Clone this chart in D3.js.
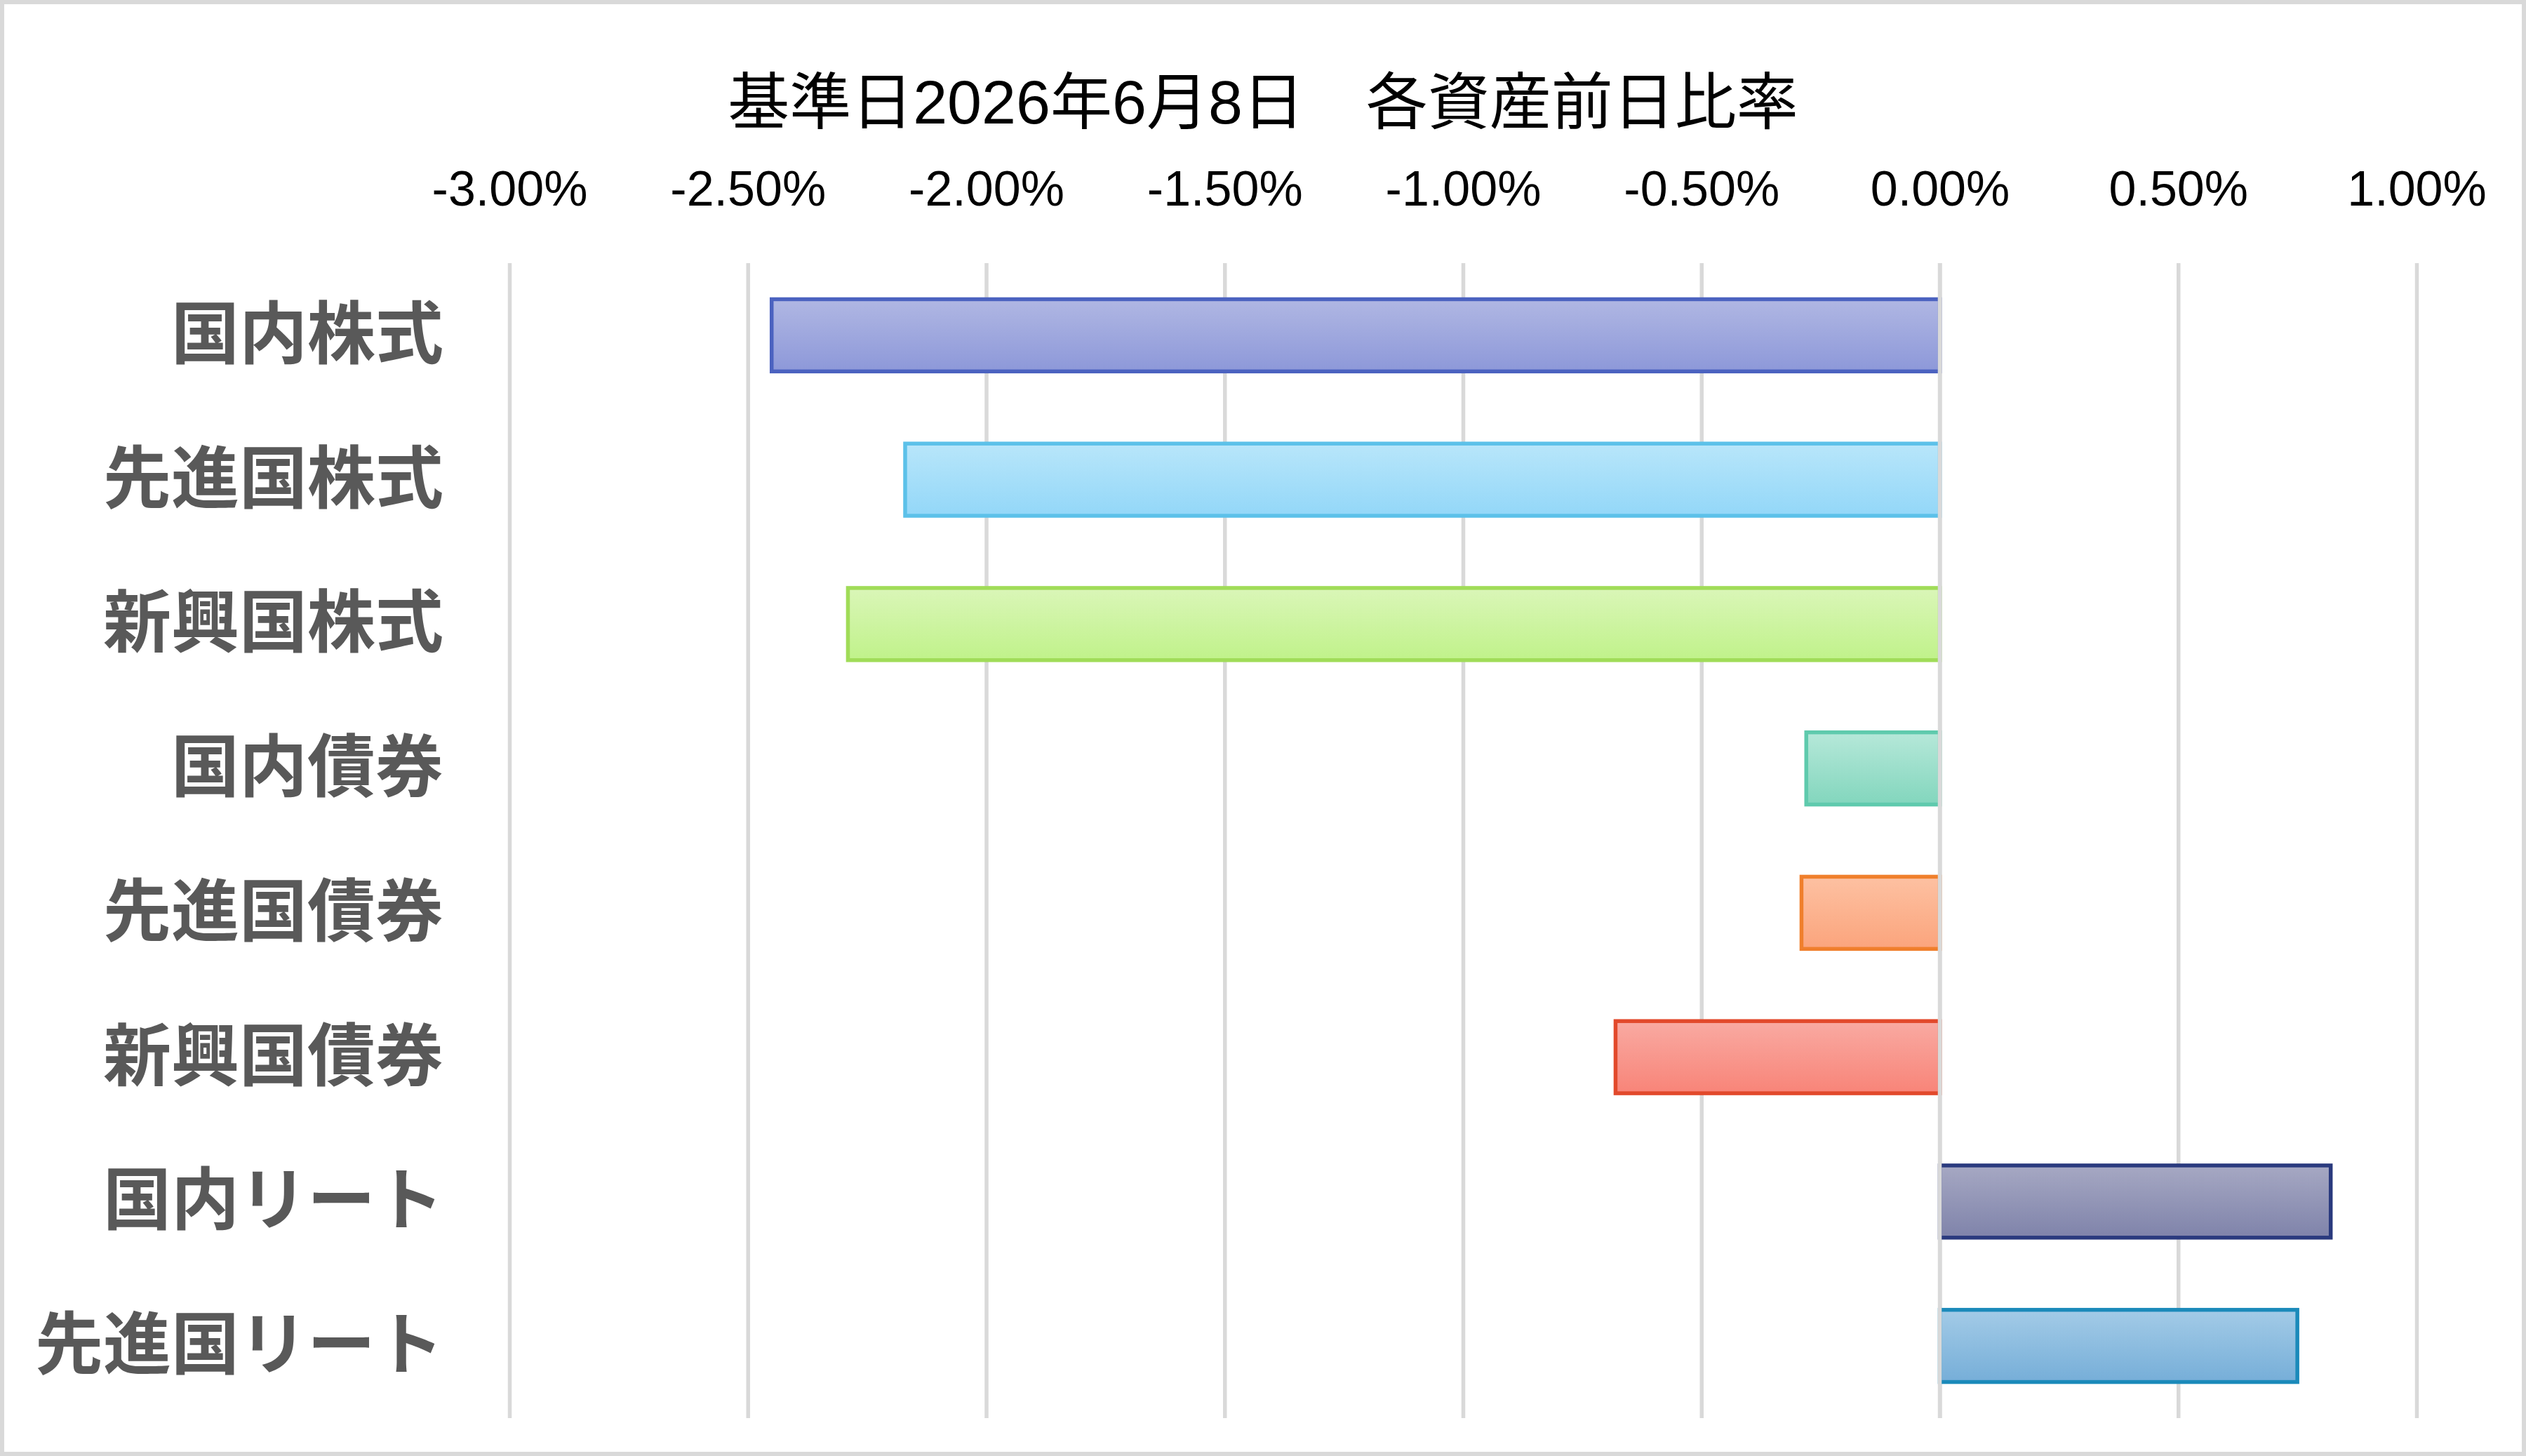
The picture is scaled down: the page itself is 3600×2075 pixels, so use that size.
<!DOCTYPE html>
<html>
<head>
<meta charset="utf-8">
<script src="https://cdn.jsdelivr.net/npm/d3@7"></script>
<style>
  html, body { margin: 0; padding: 0; background: #fff; }
  svg { display: block; }
</style>
</head>
<body>
<div id="chart"></div>
<script>
// data
var titleText = "基準日2026年6月8日　各資産前日比率";
var categories = ["国内株式", "先進国株式", "新興国株式", "国内債券", "先進国債券", "新興国債券", "国内リート", "先進国リート"];
var values = [-2.45, -2.17, -2.29, -0.28, -0.29, -0.68, 0.82, 0.75];
var tickValues = [-3, -2.5, -2, -1.5, -1, -0.5, 0, 0.5, 1];

// bar looks: [stroke, gradient top, gradient bottom]
var barColors = [
    ["#4b62c0", "#b0b7e3", "#8d98d9"],
    ["#5cc1e9", "#b8e6fa", "#93d7f8"],
    ["#a0dc58", "#daf6b8", "#c0f28a"],
    ["#5fcaad", "#b6e8d9", "#82d6bd"],
    ["#f07f2c", "#fdc1a2", "#fba47c"],
    ["#e2492b", "#f9aaa2", "#f88478"],
    ["#2a3a7e", "#a6a8c3", "#7f83aa"],
    ["#1b8aba", "#a3cbe7", "#76aed8"]
];

function start(){
    var W = 3600, H = 2075;
    var margin = {top: 375, right: 156, bottom: 54, left: 726};

    var svg = d3.select("#chart").append("svg")
        .attr("width", W)
        .attr("height", H);

    svg.append("rect")
        .attr("x", 0).attr("y", 0)
        .attr("width", W).attr("height", H)
        .attr("fill", "#fff");

    var xScale = d3.scaleLinear()
        .domain([-3, 1])
        .range([margin.left, W - margin.right]);

    var yScale = d3.scaleBand()
        .domain(categories)
        .range([margin.top, H - margin.bottom])
        .paddingInner(0.5)
        .paddingOuter(0.25);

    var defs = svg.append("defs");
    barColors.forEach(function(c, i){
        var g = defs.append("linearGradient")
            .attr("id", "grad" + i)
            .attr("x1", 0).attr("y1", 0).attr("x2", 0).attr("y2", 1);
        g.append("stop").attr("offset", "0%").attr("stop-color", c[1]);
        g.append("stop").attr("offset", "100%").attr("stop-color", c[2]);
    });

    // vertical grid lines
    var grid = svg.append("g")
        .attr("transform", "translate(0," + margin.top + ")")
        .call(d3.axisBottom(xScale)
            .tickValues(tickValues)
            .tickSize(H - margin.bottom - margin.top)
            .tickFormat(""));
    grid.select(".domain").remove();
    grid.selectAll("line")
        .attr("stroke", "#d9d9d9")
        .attr("stroke-width", 5.5);

    // bars
    svg.append("g").selectAll("rect")
        .data(values)
        .enter()
        .append("rect")
        .attr("x", function(d){ return xScale(Math.min(0, d)); })
        .attr("y", function(d, i){ return yScale(categories[i]); })
        .attr("width", function(d){ return Math.abs(xScale(d) - xScale(0)); })
        .attr("height", yScale.bandwidth())
        .attr("fill", function(d, i){ return "url(#grad" + i + ")"; })
        .attr("stroke", function(d, i){ return barColors[i][0]; })
        .attr("stroke-width", 5.5);

    // zero line sits over the bars
    svg.append("line")
        .attr("x1", xScale(0)).attr("x2", xScale(0))
        .attr("y1", margin.top).attr("y2", H - margin.bottom)
        .attr("stroke", "#d9d9d9")
        .attr("stroke-width", 5.5);

    // tick labels on top
    var xAxis = svg.append("g")
        .attr("transform", "translate(0,293)")
        .call(d3.axisTop(xScale)
            .tickValues(tickValues)
            .tickSize(0)
            .tickPadding(0)
            .tickFormat(function(d){ return d.toFixed(2) + "%"; }));
    xAxis.select(".domain").remove();
    xAxis.selectAll("text")
        .attr("y", 0)
        .attr("dy", 0)
        .style("font-family", "'Liberation Sans', Arial, sans-serif")
        .style("font-size", "70px")
        .attr("fill", "#000");

    // category labels
    var yAxis = svg.append("g")
        .attr("transform", "translate(632,0)")
        .call(d3.axisLeft(yScale).tickSize(0).tickPadding(0));
    yAxis.select(".domain").remove();
    yAxis.selectAll("text")
        .attr("dy", "0.33em")
        .attr("x", 0)
        .style("font-family", "'Noto Sans CJK JP', sans-serif")
        .style("font-weight", "bold")
        .style("font-size", "97px")
        .attr("fill", "#595959");

    // title
    svg.append("text")
        .attr("x", W / 2)
        .attr("y", 176)
        .attr("text-anchor", "middle")
        .style("font-family", "'Liberation Sans', 'Noto Sans CJK JP', sans-serif")
        .style("font-size", "88px")
        .attr("fill", "#000")
        .text(titleText);

    // chart frame
    svg.append("rect")
        .attr("x", 3).attr("y", 3)
        .attr("width", W - 6).attr("height", H - 6)
        .attr("fill", "none")
        .attr("stroke", "#d9d9d9")
        .attr("stroke-width", 6);
}

start();
</script>
</body>
</html>
